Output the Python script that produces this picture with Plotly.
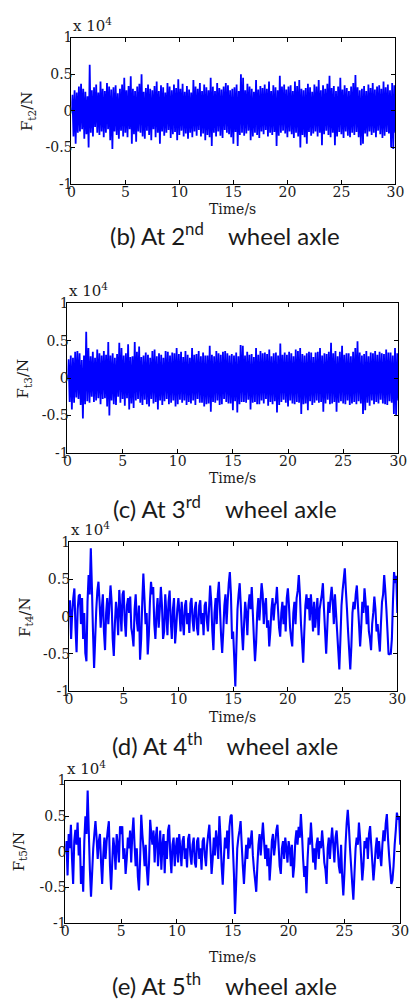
import plotly.graph_objects as go

W, H = 417, 1005

# sampling instants, s (0 .. 30 s, 0.1 s step)
time_s = [i / 10 for i in range(301)]

# tangential wheel forces, units of 1e4 N (rows are roughly one second each)
ft2 = [
    0.00, 0.22, -0.35, 0.28, -0.45, 0.25, -0.30, 0.33, -0.28, 0.37,
    -0.25, 0.30, -0.38, 0.26, -0.32, 0.20, -0.50, 0.63, -0.30, 0.28,
    -0.35, 0.32, -0.22, 0.36, -0.30, 0.25, -0.33, 0.40, -0.28, 0.30,
    -0.36, 0.27, -0.30, 0.38, -0.25, 0.33, -0.40, 0.29, -0.52, 0.32,
    -0.28, 0.35, -0.33, 0.24, -0.38, 0.30, -0.27, 0.36, -0.35, 0.45,
    -0.30, 0.28, -0.36, 0.34, -0.25, 0.47, -0.45, 0.30, -0.32, 0.27,
    -0.42, 0.33, -0.28, 0.37, -0.30, 0.50, -0.35, 0.26, -0.38, 0.31,
    -0.27, 0.36, -0.33, 0.30, -0.40, 0.28, -0.25, 0.34, -0.36, 0.40,
    -0.30, 0.27, -0.45, 0.35, -0.28, 0.32, -0.34, 0.25, -0.30, 0.38,
    -0.26, 0.33, -0.37, 0.28, -0.32, 0.36, -0.29, 0.31, -0.40, 0.43,
    -0.33, 0.30, -0.27, 0.37, -0.35, 0.26, -0.31, 0.34, -0.38, 0.29,
    -0.30, 0.25, -0.36, 0.42, -0.28, 0.33, -0.34, 0.30, -0.26, 0.38,
    -0.35, 0.27, -0.31, 0.36, -0.40, 0.32, -0.33, 0.28, -0.36,
    0.45, -0.48, 0.33, -0.30, 0.27, -0.35, 0.38, -0.28, 0.31, -0.34,
    0.29, -0.37, 0.33, -0.26, 0.38, -0.30, 0.35, -0.32, 0.28, -0.36,
    0.30, -0.45, 0.32, -0.29, 0.36, -0.48, 0.27, -0.33, 0.50, -0.30,
    0.45, -0.34, 0.28, -0.31, 0.37, -0.27, 0.33, -0.40, 0.30, -0.35,
    0.26, -0.30, 0.42, -0.33, 0.29, -0.37, 0.34, -0.28, 0.31, -0.32,
    0.36, -0.26, 0.30, -0.35, 0.40, -0.30, 0.27, -0.33, 0.35, -0.29,
    0.32, -0.48, 0.28, -0.34, 0.48, -0.30, 0.33, -0.27, 0.36, -0.31,
    0.29, -0.36, 0.33, -0.28, 0.35, -0.32, 0.27, -0.37, 0.40, -0.30,
    0.34, -0.35, 0.42, -0.50, 0.30, -0.33, 0.28, -0.36, 0.31, -0.45,
    0.37, -0.29, 0.32, -0.34, 0.26, -0.31, 0.36, -0.28, 0.33, -0.35,
    0.42, -0.30, 0.28, -0.47, 0.35, -0.32, 0.30, -0.27, 0.37, -0.33,
    0.48, -0.36, 0.31, -0.30, 0.34, -0.47, 0.27, -0.35, 0.33, -0.29,
    0.45, -0.32, 0.29, -0.37, 0.35, -0.28, 0.31, -0.34, 0.27, -0.36,
    0.33, -0.30, 0.38, -0.33, 0.49, -0.29, 0.32, -0.36, 0.28, -0.47,
    0.30, -0.45, 0.34, -0.31, 0.27, -0.35, 0.36, -0.28, 0.31, -0.33,
    0.38, -0.30, 0.29, -0.36, 0.33, -0.27, 0.35, -0.32, 0.30, -0.37,
    0.40, -0.34, 0.32, -0.29, 0.36, -0.31, 0.28, -0.50, 0.38, -0.52,
    0.35, -0.30,
]

ft3 = [
    0.00, 0.25, -0.32, 0.30, -0.42, 0.27, -0.33, 0.35, -0.26, 0.36,
    -0.28, 0.33, -0.36, 0.24, -0.54, 0.30, -0.35, 0.62, -0.31, 0.40,
    -0.33, 0.29, -0.25, 0.35, -0.32, 0.27, -0.30, 0.38, -0.27, 0.33,
    -0.35, 0.30, -0.28, 0.36, -0.27, 0.31, -0.38, 0.48, -0.50, 0.30,
    -0.30, 0.33, -0.35, 0.27, -0.36, 0.32, -0.25, 0.47, -0.33, 0.40,
    -0.28, 0.30, -0.37, 0.33, -0.27, 0.45, -0.42, 0.28, -0.34, 0.29,
    -0.40, 0.48, -0.30, 0.35, -0.28, 0.42, -0.33, 0.28, -0.36, 0.30,
    -0.29, 0.34, -0.35, 0.31, -0.38, 0.27, -0.28, 0.36, -0.34, 0.38,
    -0.32, 0.29, -0.42, 0.33, -0.30, 0.31, -0.36, 0.27, -0.31, 0.36,
    -0.28, 0.35, -0.35, 0.30, -0.33, 0.34, -0.30, 0.33, -0.38, 0.40,
    -0.35, 0.32, -0.29, 0.35, -0.33, 0.28, -0.30, 0.36, -0.36, 0.31,
    -0.32, 0.27, -0.34, 0.40, -0.30, 0.31, -0.36, 0.32, -0.28, 0.36,
    -0.33, 0.29, -0.33, 0.34, -0.38, 0.30, -0.35, 0.30, -0.34,
    0.43, -0.45, 0.31, -0.32, 0.29, -0.33, 0.36, -0.30, 0.33, -0.36,
    0.31, -0.35, 0.35, -0.28, 0.36, -0.32, 0.33, -0.34, 0.30, -0.34,
    0.32, -0.43, 0.30, -0.31, 0.34, -0.46, 0.29, -0.35, 0.44, -0.32,
    0.43, -0.32, 0.30, -0.33, 0.35, -0.29, 0.31, -0.42, 0.32, -0.33,
    0.28, -0.32, 0.40, -0.35, 0.31, -0.35, 0.36, -0.30, 0.33, -0.34,
    0.34, -0.28, 0.32, -0.37, 0.38, -0.32, 0.29, -0.35, 0.33, -0.31,
    0.34, -0.46, 0.30, -0.36, 0.46, -0.32, 0.31, -0.29, 0.34, -0.33,
    0.31, -0.38, 0.35, -0.30, 0.33, -0.34, 0.29, -0.35, 0.38, -0.32,
    0.36, -0.33, 0.40, -0.48, 0.32, -0.35, 0.30, -0.34, 0.33, -0.43,
    0.35, -0.31, 0.34, -0.36, 0.28, -0.33, 0.34, -0.30, 0.35, -0.33,
    0.40, -0.32, 0.30, -0.45, 0.33, -0.34, 0.32, -0.29, 0.35, -0.35,
    0.47, -0.34, 0.33, -0.32, 0.36, -0.45, 0.29, -0.33, 0.35, -0.31,
    0.43, -0.34, 0.31, -0.35, 0.33, -0.30, 0.33, -0.36, 0.29, -0.34,
    0.35, -0.32, 0.40, -0.35, 0.49, -0.31, 0.34, -0.34, 0.30, -0.48,
    0.32, -0.43, 0.36, -0.33, 0.29, -0.37, 0.34, -0.30, 0.33, -0.35,
    0.36, -0.32, 0.31, -0.34, 0.35, -0.29, 0.33, -0.34, 0.32, -0.35,
    0.38, -0.36, 0.34, -0.31, 0.34, -0.33, 0.30, -0.48, 0.40, -0.50,
    0.33, -0.30,
]

ft4 = [
    0.00, 0.22, -0.30, 0.05, 0.25, 0.38, -0.15, -0.48, 0.10, 0.28,
    0.30, -0.10, 0.25, -0.30, 0.05, -0.49, -0.60, 0.20, 0.56, 0.30,
    0.92, 0.40, -0.20, -0.69, -0.30, 0.10, 0.35, 0.47, 0.20, -0.15,
    0.10, 0.30, -0.20, -0.45, 0.05, 0.25, -0.10, 0.15, 0.42, 0.20,
    -0.30, -0.53, -0.10, 0.20, 0.05, -0.25, 0.36, 0.10, -0.20, 0.30,
    0.35, -0.05, -0.27, 0.15, 0.25, 0.05, 0.27, -0.15, -0.25, -0.40,
    0.10, 0.30, -0.05, -0.20, 0.15, -0.58, -0.30, 0.20, 0.58, 0.25,
    -0.10, 0.05, -0.51, -0.25, 0.20, 0.47, 0.30, 0.40, -0.10, -0.30,
    0.05, 0.25, -0.15, 0.10, 0.40, 0.15, -0.30, -0.20, 0.30, 0.05,
    -0.25, 0.20, 0.35, -0.05, -0.30, 0.10, 0.25, -0.36, -0.15, 0.10,
    0.25, 0.05, -0.20, 0.20, -0.05, -0.25, 0.15, 0.22, -0.10, 0.05,
    -0.22, 0.18, 0.25, -0.05, -0.20, 0.10, 0.20, -0.15, -0.25, 0.15,
    0.22, -0.10, 0.05, -0.25, 0.15, 0.20, -0.05, -0.20, 0.10, 0.42,
    0.20, -0.20, -0.45, 0.05, 0.25, -0.10, 0.30, 0.47, 0.10, -0.25,
    -0.49, -0.20, 0.15, 0.30, -0.10, 0.20, 0.45, 0.60, 0.30, -0.30,
    -0.20, -0.55, -0.94, -0.40, 0.10, 0.30, 0.45, 0.15, -0.20, -0.45,
    -0.10, 0.20, 0.05, -0.25, 0.15, 0.30, 0.10, 0.40, 0.05, -0.30,
    -0.60, -0.35, 0.05, 0.25, -0.05, 0.20, 0.45, 0.30, -0.10, 0.15,
    0.25, -0.15, -0.05, -0.40, -0.20, 0.10, 0.25, -0.05, 0.15, 0.20,
    0.40, 0.10, -0.15, -0.27, 0.05, 0.20, -0.10, 0.15, -0.20, 0.25,
    0.38, 0.15, -0.15, -0.30, -0.40, 0.05, 0.20, -0.10, 0.25, 0.35,
    0.56, 0.30, -0.10, -0.35, -0.62, -0.20, 0.15, 0.30, 0.10, 0.25,
    -0.05, 0.30, 0.10, -0.20, 0.20, -0.15, 0.05, 0.25, -0.25, 0.10,
    0.20, 0.30, 0.45, 0.10, -0.20, -0.50, -0.15, 0.20, 0.05, 0.25,
    0.40, 0.20, -0.10, 0.30, 0.05, -0.20, -0.45, -0.71, -0.30, 0.15,
    0.35, 0.50, 0.65, 0.35, 0.10, -0.20, -0.45, -0.71, -0.40, 0.05,
    0.20, 0.10, 0.30, 0.42, 0.15, -0.10, -0.40, -0.15, 0.20, 0.05,
    0.38, 0.20, -0.10, 0.15, -0.20, -0.30, -0.45, -0.10, 0.05, 0.27,
    0.10, -0.20, -0.10, -0.30, -0.47, -0.10, 0.20, 0.30, 0.56, 0.35,
    0.10, -0.20, -0.51, -0.50, -0.50, -0.30, 0.20, 0.60, 0.45, 0.55,
    0.05,
]

ft5 = [
    0.00, 0.15, -0.33, 0.25, 0.05, 0.38, -0.10, -0.45, 0.15, 0.31,
    0.10, 0.41, -0.05, 0.20, -0.45, -0.20, -0.56, 0.15, 0.50, 0.25,
    0.86, 0.30, -0.25, -0.63, -0.30, 0.05, 0.25, 0.43, 0.20, -0.10,
    0.15, 0.25, -0.15, -0.45, -0.05, 0.20, -0.10, 0.15, 0.30, 0.43,
    -0.20, -0.53, -0.15, 0.20, 0.05, -0.25, 0.25, 0.10, -0.15, 0.36,
    0.25, 0.36, -0.10, 0.05, -0.31, -0.10, 0.20, 0.05, 0.30, -0.15,
    0.25, 0.48, 0.10, -0.20, 0.05, -0.35, -0.54, -0.10, 0.52, 0.25,
    0.05, -0.20, 0.10, -0.25, -0.47, -0.15, 0.45, 0.25, 0.10, 0.30,
    -0.15, 0.20, 0.35, -0.20, 0.05, 0.30, -0.25, 0.10, 0.25, -0.30,
    0.15, -0.10, 0.30, 0.38, -0.05, -0.30, 0.10, 0.20, -0.20, 0.05,
    0.20, -0.15, 0.25, 0.05, -0.20, 0.15, 0.22, -0.10, 0.05, -0.22,
    0.18, 0.25, -0.05, -0.18, 0.10, 0.20, -0.15, -0.22, 0.15, 0.20,
    -0.10, 0.05, -0.25, 0.15, 0.20, -0.05, -0.20, 0.10, 0.25, 0.38,
    0.05, -0.31, -0.10, 0.20, -0.05, 0.30, 0.15, -0.10, 0.50, 0.20,
    -0.20, -0.46, -0.10, 0.20, 0.05, 0.30, -0.10, 0.35, 0.50, 0.52,
    0.10, -0.30, -0.87, -0.45, 0.05, 0.20, 0.30, 0.43, 0.10, -0.20,
    -0.45, -0.15, 0.10, -0.10, 0.20, 0.05, 0.15, 0.30, -0.05, -0.25,
    -0.40, -0.56, -0.20, 0.10, 0.25, -0.05, 0.20, 0.41, 0.15, -0.10,
    0.10, -0.20, 0.05, -0.40, -0.15, 0.15, 0.25, -0.05, 0.10, 0.30,
    0.38, 0.10, -0.20, -0.31, 0.05, 0.15, -0.10, 0.20, 0.05, -0.15,
    0.15, 0.05, -0.20, 0.10, -0.36, -0.20, 0.15, 0.30, 0.10, 0.35,
    0.20, 0.53, 0.25, -0.10, -0.35, -0.20, -0.58, -0.10, 0.20, 0.10,
    0.41, 0.15, -0.15, 0.05, -0.25, 0.10, 0.20, -0.10, 0.15, 0.05,
    0.30, 0.10, -0.15, -0.25, -0.45, 0.05, 0.20, -0.10, 0.15, 0.34,
    0.10, -0.15, 0.20, 0.30, 0.05, -0.20, -0.30, 0.10, -0.35, -0.61,
    -0.30, 0.10, 0.40, 0.59, 0.35, 0.05, -0.20, -0.45, -0.67, -0.30,
    0.05, 0.20, 0.10, 0.41, 0.20, -0.10, -0.40, -0.20, 0.15, 0.05,
    0.20, -0.10, 0.25, 0.36, 0.10, -0.15, -0.40, -0.20, 0.05, 0.20,
    -0.10, 0.15, -0.05, -0.20, 0.10, 0.30, 0.15, 0.40, 0.53, 0.20,
    -0.05, -0.25, -0.45, -0.40, -0.20, 0.10, 0.30, 0.55, 0.45, 0.50,
    0.10,
]

x_ticks = [0, 5, 10, 15, 20, 25, 30]
y_ticks = [-1, -0.5, 0, 0.5, 1]
y_ticktext = ["-1", "-0.5", "0", "0.5", "1"]

y_titles = ["F<sub>t2</sub>/N", "F<sub>t3</sub>/N", "F<sub>t4</sub>/N", "F<sub>t5</sub>/N"]
ordinals = [("2", "nd"), ("3", "rd"), ("4", "th"), ("5", "th")]
letters = ["b", "c", "d", "e"]
series = [ft2, ft3, ft4, ft5]
line_w = [1.8, 1.8, 2.1, 2.1]

# plot boxes in pixels: left, top, right, bottom
boxes = [(69.5, 30, 404, 179), (65.5, 300, 407, 452), (67, 543, 406, 694), (63.3, 785, 409, 930)]
ytitle_x = [25, 20, 22, 16]
xtitle_y = [204, 478, 720, 964]
caption_y = [230, 507, 748, 992]

SERIF = "DejaVu Serif"
SANS = "Lato"
TXT = "#1a1a1a"
GAP = "\u00a0" * 4


def fx(px):
    return px / W


def fy(py):
    return 1 - py / H


fig = go.Figure()
layout = dict(
    width=W, height=H, margin=dict(l=0, r=0, t=0, b=0),
    paper_bgcolor="white", plot_bgcolor="white", showlegend=False,
)
annotations = []

for i, (vals, box) in enumerate(zip(series, boxes)):
    n = "" if i == 0 else str(i + 1)
    l, t, r, b = box
    fig.add_trace(go.Scatter(
        x=time_s, y=vals, mode="lines",
        line=dict(color="#0000ff", width=line_w[i], simplify=False),
        xaxis="x" + n, yaxis="y" + n, hoverinfo="skip",
    ))
    common = dict(
        showline=True, linecolor="black", linewidth=1, mirror="allticks",
        ticks="inside", ticklen=4, tickcolor="black", showgrid=False, zeroline=False,
        tickfont=dict(family=SERIF, size=14, color=TXT), ticklabelstandoff=-5,
    )
    layout["xaxis" + n] = dict(
        common, domain=[fx(l), fx(r)], range=[0, 30], tickvals=x_ticks,
        anchor="y" + n,
    )
    layout["yaxis" + n] = dict(
        common, domain=[fy(b), fy(t)], range=[-1, 1], tickvals=y_ticks,
        ticktext=y_ticktext, anchor="x" + n,
    )
    # exponent label
    annotations.append(dict(
        x=fx(l), y=fy(t - 1), xref="paper", yref="paper",
        xanchor="left", yanchor="bottom", showarrow=False,
        text="x 10<sup>4</sup>", font=dict(family=SERIF, size=15, color=TXT),
    ))
    annotations.append(dict(
        x=fx(236), y=fy(xtitle_y[i]), xref="paper", yref="paper",
        xanchor="center", yanchor="middle", showarrow=False,
        text="Time/s", font=dict(family=SERIF, size=14, color=TXT),
    ))
    annotations.append(dict(
        x=fx(ytitle_x[i]), y=fy((t + b) / 2), xref="paper", yref="paper",
        xanchor="center", yanchor="middle", showarrow=False, textangle=-90,
        text=y_titles[i], font=dict(family=SERIF, size=15, color=TXT),
    ))
    num, suf = ordinals[i]
    cap = f"({letters[i]}) At {num}<sup>{suf}</sup>" + GAP + "wheel axle"
    annotations.append(dict(
        x=fx(228), y=fy(caption_y[i]), xref="paper", yref="paper",
        xanchor="center", yanchor="middle", showarrow=False,
        text=cap, font=dict(family=SANS, size=24, color=TXT),
    ))

layout["annotations"] = annotations
fig.update_layout(**layout)
fig.write_html("out.html", config={"displayModeBar": False},
               post_script="document.body.style.margin='0';")
